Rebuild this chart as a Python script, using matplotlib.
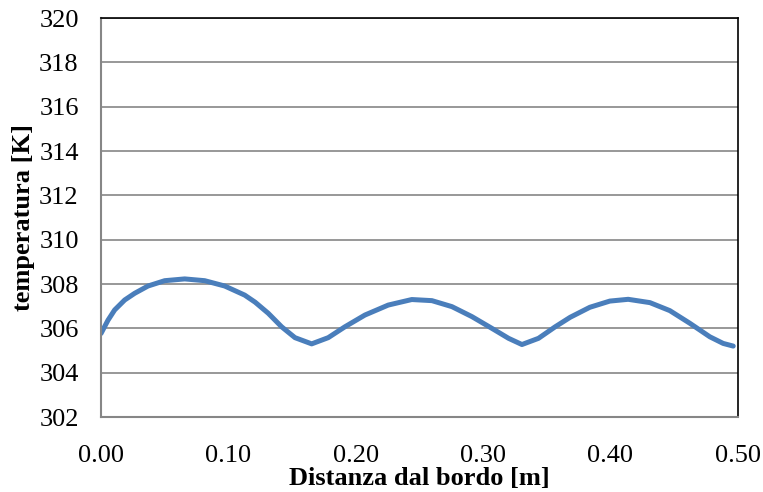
import matplotlib
matplotlib.use("Agg")
from matplotlib import pyplot as plt

# distance from edge [m] and temperature [K]
distanza = [0.000, 0.0055, 0.0107, 0.0186, 0.0264, 0.0369, 0.050, 0.0657, 0.0814, 0.0971,
            0.1128, 0.121, 0.1313, 0.1418, 0.1523, 0.1654, 0.1784, 0.1915, 0.2072, 0.2255,
            0.2440, 0.2598, 0.2755, 0.2912, 0.3069, 0.320, 0.3305, 0.3435, 0.3566, 0.3684,
            0.3838, 0.3995, 0.4139, 0.431, 0.4466, 0.4623, 0.478, 0.4885, 0.4964]
temperatura = [305.77, 306.37, 306.83, 307.28, 307.58, 307.91, 308.15, 308.23, 308.15, 307.91,
               307.50, 307.18, 306.68, 306.07, 305.58, 305.30, 305.58, 306.07, 306.60, 307.05,
               307.30, 307.25, 306.98, 306.53, 306.00, 305.55, 305.27, 305.55, 306.07, 306.50,
               306.95, 307.23, 307.31, 307.16, 306.80, 306.23, 305.62, 305.32, 305.20]

yticks = list(range(302, 321, 2))
xticks = [0.0, 0.1, 0.2, 0.3, 0.4, 0.5]

plt.rcParams['font.family'] = ['Liberation Serif', 'DejaVu Serif']

fig = plt.figure(figsize=(7.63, 4.92), dpi=100)
ax = fig.add_axes([0.1324, 0.1524, 0.8346, 0.811])

ax.plot(distanza, temperatura, color='#4A7EBB', lw=3.6,
        solid_capstyle='round', solid_joinstyle='round')

ax.set_xlim(0, 0.5)
ax.set_ylim(302, 320)
ax.set_yticks(yticks)
ax.set_xticks(xticks)
ax.set_xticklabels(['%.2f' % v for v in xticks])
ax.yaxis.grid(True, color='#868686', lw=1.2)
ax.set_axisbelow(True)
ax.tick_params(length=0, labelsize=19)
ax.tick_params(axis='y', pad=16)
ax.tick_params(axis='x', pad=20)

for s in ['left', 'bottom']:
    ax.spines[s].set_color('#868686')
    ax.spines[s].set_linewidth(1.5)
for s in ['top', 'right']:
    ax.spines[s].set_color('black')
    ax.spines[s].set_linewidth(1.2)

ax.set_xlabel('Distanza dal bordo [m]', fontsize=19, fontweight='bold', labelpad=0)
ax.set_ylabel('temperatura [K]', fontsize=19, fontweight='bold', labelpad=3)

fig.savefig('out.png', dpi=100)
